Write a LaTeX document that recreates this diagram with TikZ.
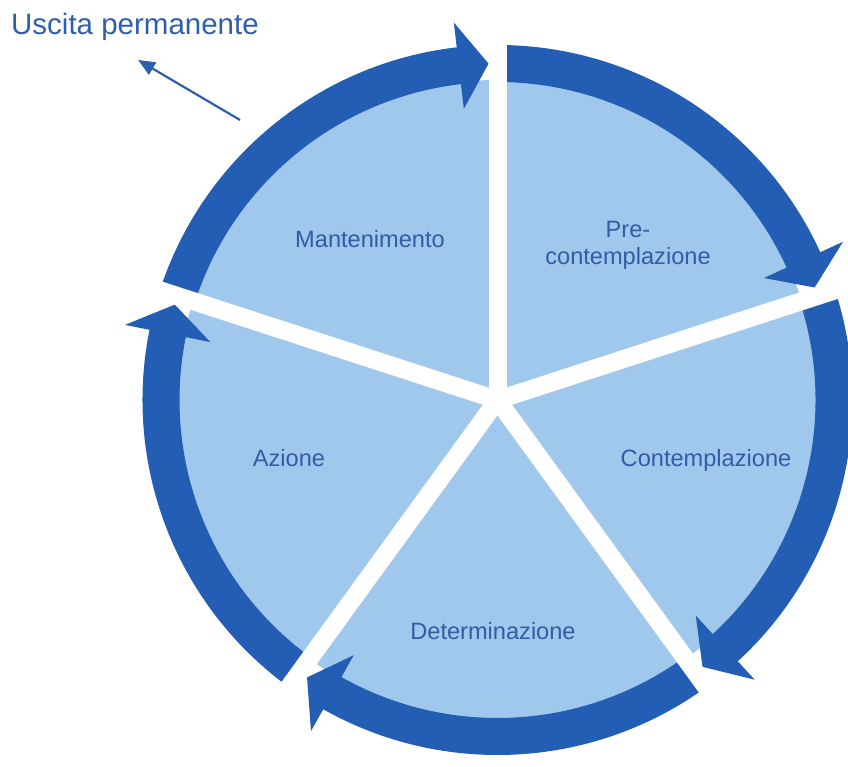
\documentclass[tikz,border=0pt]{standalone}
\usepackage{fontspec}
\setmainfont{Liberation Sans}
\usetikzlibrary{arrows.meta,calc}
\definecolor{ringblue}{RGB}{35,94,180}
\definecolor{fillblue}{RGB}{160,200,236}
\definecolor{textblue}{RGB}{50,92,165}
\definecolor{uscblue}{RGB}{45,95,172}
\begin{document}
\begin{tikzpicture}[x=1pt,y=1pt,
  lbl/.style={font=\fontsize{23.6}{27}\selectfont, text=textblue, inner sep=0pt, align=center},
  ringseg/.style={fill=ringblue},
  gapline/.style={draw=white, line width=18pt},
  exitarrow/.style={draw=uscblue, line width=2.2pt, -{Triangle[length=17pt,width=14pt]}}]
\useasboundingbox (0,0) rectangle (848,767);
\coordinate (C) at (497.5,367);
% light pie
\fill[fillblue] (C) circle[radius=320];
% ring segments with arrowheads (clockwise)
\foreach \a in {162,90,18,-54,-126}{
  \pgfmathsetmacro\b{\a-72}
  \pgfmathsetmacro\bb{\b+6.6}
  \pgfmathsetmacro\bs{\b+6.0}
  \pgfmathsetmacro\bt{\b+1.53}
  \fill[ringseg] ($(C)+(\a:355)$) arc[start angle=\a, end angle=\bs, radius=355]
     -- ($(C)+(\bs:318)$) arc[start angle=\bs, end angle=\a, radius=318] -- cycle;
  \fill[ringseg] ($(C)+(\bb:293)$) -- ($(C)+(\bb:380)$) -- ($(C)+(\bt:336.5)$) -- cycle;
}
% white gaps
\foreach \g in {90,18,-54,-126,162}
  \draw[gapline] (C) -- ++(\g:420);
% labels
\node[lbl, anchor=base] (mant) at (370,519) {Mantenimento};
\node[lbl, anchor=north] (pre) at (628,546) {Pre-\\contemplazione};
\node[lbl, anchor=base] (cont) at (706,300) {Contemplazione};
\node[lbl, anchor=base] (azi) at (289,300) {Azione};
\node[lbl, anchor=base] (det) at (493,127) {Determinazione};
% exit
\node[font=\fontsize{29.5}{32}\selectfont, text=uscblue, anchor=base west, inner sep=0pt] (usc) at (11,732) {Uscita permanente};
\coordinate (utail) at (240,647);
\coordinate (utip) at (138,707);
\draw[exitarrow] (utail) -- (utip);
\end{tikzpicture}
\end{document}
